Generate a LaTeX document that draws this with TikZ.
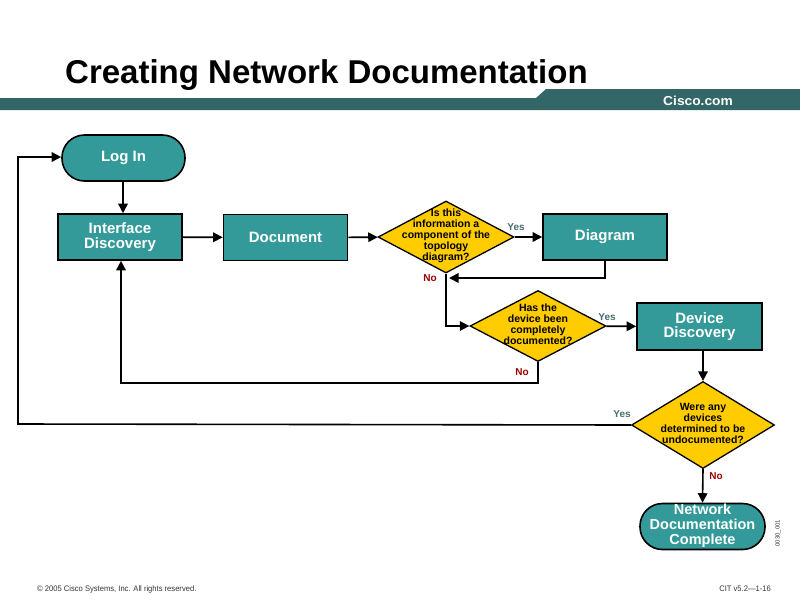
\documentclass[tikz,border=0pt]{standalone}
\usepackage{fontspec}
\setmainfont{Liberation Sans}
\usetikzlibrary{shapes.geometric,arrows.meta}
\definecolor{teal1}{RGB}{51,153,153}
\definecolor{bar}{RGB}{51,102,102}
\definecolor{gold}{RGB}{255,204,0}
\definecolor{yescol}{RGB}{70,110,110}
\definecolor{nocol}{RGB}{153,0,0}
\newcommand\dtext[1]{\raisebox{-0.45em}{\smash{\makebox[0pt]{\begin{tabular}{@{}c@{}}#1\end{tabular}}}}}
\tikzset{
  box/.style={draw=black,line width=1.6pt,fill=teal1,text=white,font=\fontsize{15}{14.5}\selectfont\bfseries,align=center,inner sep=0pt},
  procbox/.style={box,rectangle,minimum width=124,minimum height=46},
  termbox/.style={box,rectangle,rounded corners=22.5pt,minimum width=123,minimum height=46},
  decision/.style={diamond,draw=black,line width=1.3pt,fill=gold,text=black,font=\fontsize{10.5}{11}\selectfont\bfseries,inner sep=0pt},
  flow/.style={line width=1.6pt,-{Triangle[length=9.5pt,width=9.5pt]}},
  yeslab/.style={text=yescol,font=\fontsize{10}{10}\selectfont\bfseries},
  nolab/.style={text=nocol,font=\fontsize{10}{10}\selectfont\bfseries},
}
\begin{document}
\begin{tikzpicture}[x=1pt,y=-1pt]
\useasboundingbox (0,0) rectangle (800,600);
% header
\node[anchor=base west,inner sep=0pt,font=\fontsize{33}{33}\selectfont\bfseries] (title) at (65,83) {Creating Network Documentation};
\fill[bar] (0,98) -- (536,98) -- (546,89) -- (800,89) -- (800,110) -- (0,110) -- cycle;
\node[anchor=base west,inner sep=0pt,text=white,font=\fontsize{13}{13}\selectfont\bfseries,xscale=1.06] (cisco) at (663,105) {Cisco.com};
% nodes
\node[termbox] (login) at (123.5,158) {Log In};
\node[procbox] (iface) at (120,237) {Interface\\Discovery};
\node[procbox] (doc) at (285.5,237.5) {Document};
\node[decision,minimum width=136,minimum height=72] (d1) at (446,237) {\dtext{Is this\\information a\\component of the\\topology\\diagram?}};
\node[procbox] (diag) at (605,237) {Diagram};
\node[decision,minimum width=136,minimum height=71] (d2) at (538,326) {\dtext{Has the\\device been\\completely\\documented?}};
\node[procbox,minimum width=125,minimum height=47] (dev) at (699.5,326.5) {Device\\Discovery};
\node[decision,minimum width=143,minimum height=87] (d3) at (703,425) {\dtext{Were any\\devices\\determined to be\\undocumented?}};
\node[termbox,minimum width=125,font=\fontsize{14.5}{14.5}\selectfont\bfseries] (done) at (702.5,526.5) {\raisebox{-1pt}{\begin{tabular}{@{}c@{}}Network\\Documentation\\Complete\end{tabular}}};
% connectors
\draw[flow] (login.south -| 123,0) -- (iface.north -| 123,0);
\draw[flow] (iface) -- (doc);
\draw[flow] (doc) -- (d1);
\draw[flow] (d1) -- (diag);
\coordinate (c1) at (605,278);
\coordinate (c1e) at (449,278);
\draw[flow] (diag.south) -- (c1) -- (c1e);
\coordinate (c2) at (446,326);
\draw[flow] (d1.south) -- (c2) -- (d2.west);
\draw[flow] (d2) -- (dev);
\coordinate (c3) at (538,383);
\coordinate (c4) at (121,383);
\draw[flow] (d2.south) -- (c3) -- (c4) -- (iface.south -| c4);
\coordinate (c5) at (703,350);
\draw[flow] (c5) -- (d3.north);
\coordinate (c6) at (18,424);
\coordinate (c7) at (18,157);
\draw[flow] (d3.west) -- (c6) -- (c7) -- (login.west |- c7);
\draw[flow] (d3.south) -- (done.north);
% labels
\node[yeslab] (y1) at (516,227) {Yes};
\node[nolab] (n1) at (430,278) {No};
\node[yeslab] (y2) at (607,317) {Yes};
\node[nolab] (n2) at (522,372) {No};
\node[yeslab] (y3) at (622,414) {Yes};
\node[nolab] (n3) at (716,476) {No};
\node[rotate=90,font=\fontsize{6}{6}\selectfont,text=black!80,inner sep=0pt] (code) at (778,533) {0030\_001};
% footer
\node[anchor=base west,inner sep=0pt,font=\fontsize{8}{8}\selectfont,text=black!80,xscale=0.95] (foot1) at (37,591) {© 2005 Cisco Systems, Inc. All rights reserved.};
\node[anchor=base east,inner sep=0pt,font=\fontsize{8}{8}\selectfont,text=black!80,xscale=0.95] (foot2) at (771,591) {CIT v5.2—1-16};
\end{tikzpicture}
\end{document}
